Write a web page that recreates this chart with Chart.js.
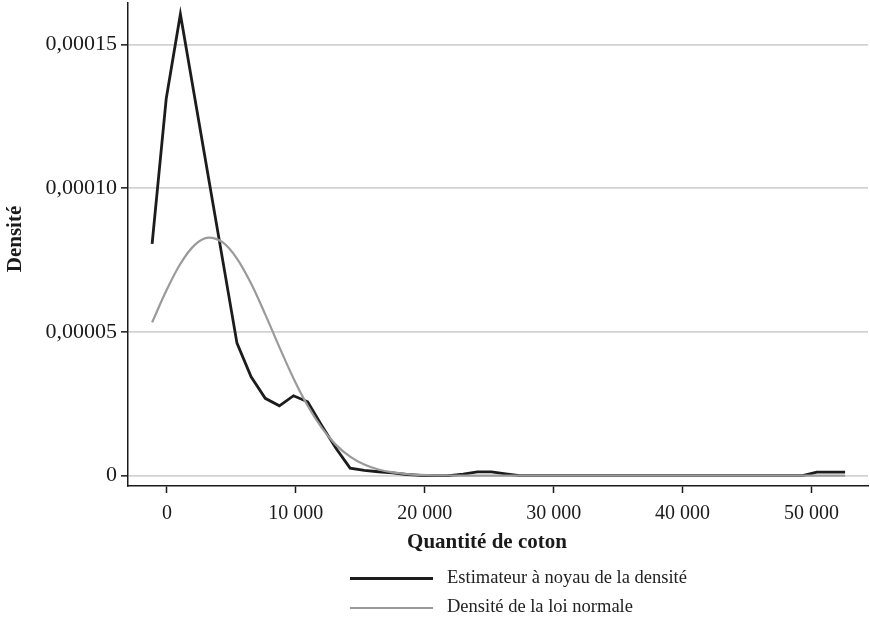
<!DOCTYPE html>
<html lang="fr">
<head>
<meta charset="utf-8">
<title>Densité - Quantité de coton</title>
<script src="https://cdn.jsdelivr.net/npm/chart.js@4.4.1/dist/chart.umd.min.js"></script>
<style>
    body { margin: 0; background: #fff; }
    #wrap { position: relative; width: 870px; height: 620px; font-family: "Liberation Serif", "DejaVu Serif", serif; color: #222; }
    #grafico { position: absolute; left: 0; top: 0; }
    .leyenda-item { position: absolute; left: 350px; height: 20px; }
    .leyenda-linea { position: absolute; left: 0; width: 83px; }
    .leyenda-texto { position: absolute; left: 97px; top: -1px; font-size: 18.5px; white-space: nowrap; line-height: 20px; }
</style>
</head>
<body>
<div id="wrap">
    <canvas id="grafico" width="870" height="620"></canvas>
    <div id="leyenda"></div>
</div>
<script>
// --- Datos ---
const puntosX = [-1150, -53, 1044, 2141, 3238, 4335, 5432, 6529, 7626, 8723,
    9820, 10917, 12014, 13111, 14208, 15305, 16402, 17499, 18596, 19693,
    20790, 21887, 22984, 24081, 25178, 26275, 27372, 28469, 29566, 30663,
    31760, 32857, 33954, 35051, 36148, 37245, 38342, 39439, 40536, 41633,
    42730, 43827, 44924, 46021, 47118, 48215, 49312, 50409, 51506, 52603];

const densidadNucleo = [8.06e-5, 1.312e-4, 1.605e-4, 1.319e-4, 1.033e-4, 7.47e-5, 4.61e-5, 3.44e-5, 2.69e-5, 2.43e-5,
    2.78e-5, 2.57e-5, 1.74e-5, 9.5e-6, 2.6e-6, 1.8e-6, 1.35e-6, 9.5e-7, 4e-7, 1e-7,
    0, 0, 5e-7, 1.3e-6, 1.3e-6, 6e-7, 0, 0, 0, 0,
    0, 0, 0, 0, 0, 0, 0, 0, 0, 0,
    0, 0, 0, 0, 0, 0, 0, 1.2e-6, 1.2e-6, 1.2e-6];

const densidadNormal = [5.33e-5, 6.43e-5, 7.37e-5, 8.02e-5, 8.28e-5, 8.11e-5, 7.55e-5, 6.68e-5, 5.61e-5, 4.47e-5,
    3.38e-5, 2.43e-5, 1.66e-5, 1.07e-5, 6.6e-6, 3.85e-6, 2.14e-6, 1.12e-6, 5.6e-7, 2.7e-7,
    1.2e-7, 5e-8, 0, 0, 0, 0, 0, 0, 0, 0,
    0, 0, 0, 0, 0, 0, 0, 0, 0, 0,
    0, 0, 0, 0, 0, 0, 0, 0, 0, 0];

const nombresSeries = ['Estimateur à noyau de la densité', 'Densité de la loi normale'];
const coloresSeries = ['#1c1c1c', '#9a9a9a'];

const ticksX = [0, 10000, 20000, 30000, 40000, 50000];
const etiquetasX = ['0', '10 000', '20 000', '30 000', '40 000', '50 000'];
const ticksY = [0, 0.00005, 0.0001, 0.00015];
const etiquetasY = ['0', '0,00005', '0,00010', '0,00015'];

const tituloX = 'Quantité de coton';
const tituloY = 'Densité';

const FUENTE = '"Liberation Serif", "DejaVu Serif", serif';

// --- Títulos de los ejes ---
const titulosEjes = {
    id: 'titulosEjes',
    afterDraw(chart) {
        const ctx = chart.ctx;
        ctx.save();
        ctx.fillStyle = '#1a1a1a';
        ctx.font = 'bold 21px ' + FUENTE;
        ctx.textAlign = 'center';
        ctx.textBaseline = 'middle';
        ctx.fillText(tituloX, 487, 543);
        ctx.translate(16, 239);
        ctx.rotate(-Math.PI / 2);
        ctx.fillText(tituloY, 0, 0);
        ctx.restore();
    }
};

const toPuntos = serie => puntosX.map((x, i) => ({ x, y: serie[i] }));

new Chart(document.getElementById('grafico'), {
    type: 'line',
    data: {
        datasets: [
            { label: nombresSeries[0], data: toPuntos(densidadNucleo), borderColor: coloresSeries[0], borderWidth: 2.8, pointRadius: 0, order: 1, tension: 0 },
            { label: nombresSeries[1], data: toPuntos(densidadNormal), borderColor: coloresSeries[1], borderWidth: 2.2, pointRadius: 0, order: 0, cubicInterpolationMode: 'monotone' }
        ]
    },
    options: {
        responsive: false,
        animation: false,
        layout: { padding: { left: 0, right: 2, top: 3, bottom: 0 } },
        plugins: { legend: { display: false }, tooltip: { enabled: false } },
        scales: {
            x: {
                type: 'linear',
                min: -3020,
                max: 54380,
                afterFit: s => { s.height = 134; s.paddingLeft = 0; s.paddingRight = 0; },
                afterBuildTicks: s => { s.ticks = ticksX.map(v => ({ value: v })); },
                border: { display: true, color: '#1a1a1a', width: 1.5 },
                grid: { drawOnChartArea: false, drawTicks: true, tickLength: 7, tickColor: '#1a1a1a', tickWidth: 1.5 },
                ticks: { padding: 9, color: '#1a1a1a', font: { family: FUENTE, size: 20 }, maxRotation: 0,
                    callback: (v, i) => etiquetasX[i] }
            },
            y: {
                min: -0.0000036,
                max: 0.0001644,
                afterFit: s => { s.width = 128; s.paddingTop = 0; s.paddingBottom = 0; },
                afterBuildTicks: s => { s.ticks = ticksY.map(v => ({ value: v })); },
                border: { display: true, color: '#1a1a1a', width: 1.5 },
                grid: { color: '#d2d2d2', lineWidth: 1.7, drawTicks: true, tickLength: 7, tickColor: '#1a1a1a', tickWidth: 1.5 },
                ticks: { padding: 4, color: '#1a1a1a', font: { family: FUENTE, size: 22 },
                    callback: (v, i) => etiquetasY[i] }
            }
        }
    },
    plugins: [titulosEjes]
});

// --- Leyenda HTML ---
const leyenda = document.getElementById('leyenda');
nombresSeries.forEach((nombre, i) => {
    const item = document.createElement('div');
    item.className = 'leyenda-item';
    item.style.top = (568 + i * 29) + 'px';
    item.innerHTML = `<div class="leyenda-linea" style="top:${i === 0 ? 9 : 10}px;height:${i === 0 ? 3 : 2}px;background:${coloresSeries[i]}"></div>
        <div class="leyenda-texto">${nombre}</div>`;
    leyenda.appendChild(item);
});
</script>
</body>
</html>
